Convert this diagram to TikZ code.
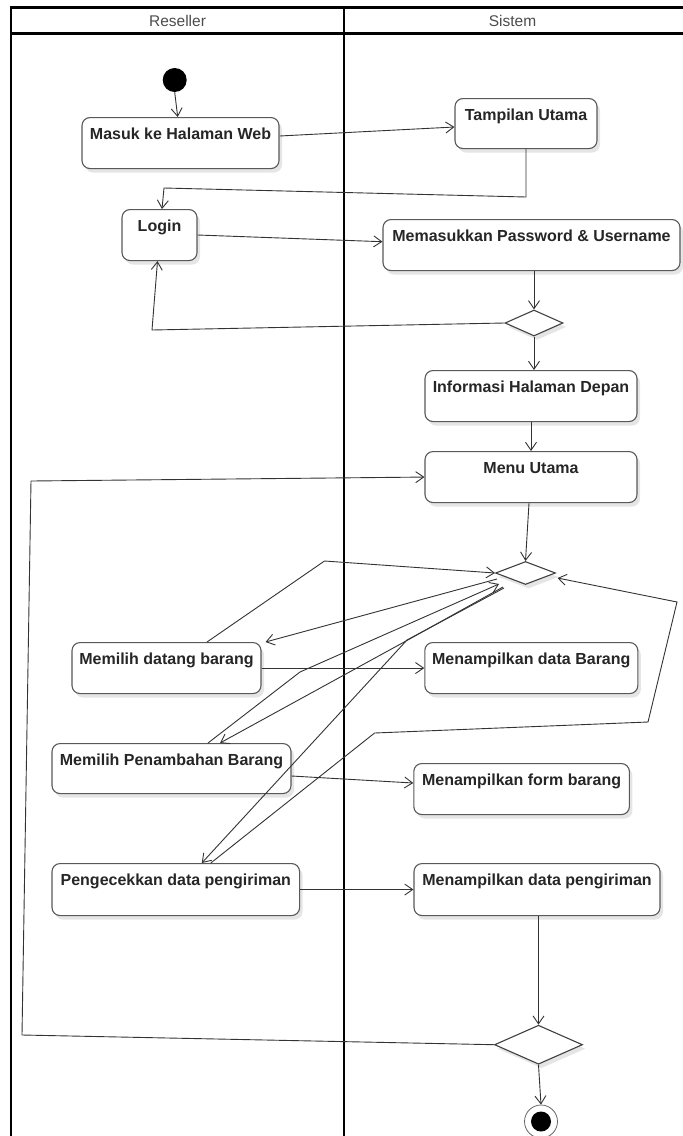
\documentclass[tikz,border=0pt]{standalone}
\usepackage{fontspec}
\setmainfont{Liberation Sans}
\usetikzlibrary{shapes.geometric,arrows.meta,shadows}
\begin{document}
\begin{tikzpicture}[x=1pt,y=-1pt,
  lane/.style={line width=2.5pt,black},
  hdr/.style={font=\fontsize{15.5}{18}\selectfont,text=black!70,inner sep=0pt},
  act/.style={draw=black!65,line width=1.1pt,rounded corners=8pt,fill=white,
    font=\bfseries\fontsize{16}{19}\selectfont,text=black!85,
    inner xsep=2pt,inner ysep=0pt,text height=22pt,text depth=29pt,anchor=north,
    drop shadow={shadow xshift=3pt,shadow yshift=-4pt,fill=black,opacity=0.10}},
  dec/.style={diamond,draw=black!75,line width=1.1pt,fill=white,inner sep=0pt,
    drop shadow={shadow xshift=3pt,shadow yshift=-4pt,fill=black,opacity=0.10}},
  arr/.style={draw=black!80,line width=0.9pt,-{Straight Barb[length=8pt,width=11pt,line width=0.9pt]}},
  ln/.style={draw=black!80,line width=0.9pt}]
\useasboundingbox (0,0) rectangle (683,1136);
\fill[white] (0,0) rectangle (683,1136);
% swimlanes
\draw[lane] (11,1140) -- (11,7.3) -- (690,7.3);
\draw[lane] (11,33.3) -- (690,33.3);
\draw[lane] (344,7.3) -- (344,1140);
\node[hdr] (hR) at (177.5,20.5) {Reseller};
\node[hdr] (hS) at (512.5,20.5) {Sistem};
% nodes
\node[circle,fill=black,inner sep=0pt,minimum size=24pt] (start) at (174.7,80) {};
\node[act,minimum width=197pt] (masuk) at (180.5,117) {Masuk ke Halaman Web};
\node[act,minimum width=142pt,text depth=28pt] (tamp) at (526,98) {Tampilan Utama};
\node[act,minimum width=75pt] (login) at (159.5,209) {Login};
\node[act,minimum width=297pt] (memas) at (531.5,219) {Memasukkan Password \& Username};
\node[dec,minimum width=58pt,minimum height=26pt] (d1) at (534,323) {};
\node[act,minimum width=212pt] (info) at (531,370) {Informasi Halaman Depan};
\node[act,minimum width=212pt] (menu) at (531,451) {Menu Utama};
\node[dec,minimum width=60pt,minimum height=23pt] (dM) at (525.5,573) {};
\node[act,minimum width=189pt] (datang) at (166.5,642) {Memilih datang barang};
\node[act,minimum width=213pt] (dataB) at (531.3,642) {Menampilkan data Barang};
\node[act,minimum width=239pt,text depth=28pt] (penamb) at (171.5,743) {Memilih Penambahan Barang};
\node[act,minimum width=215.6pt] (form) at (521.6,763) {Menampilkan form barang};
\node[act,minimum width=247.6pt,text depth=30pt] (pengec) at (175.8,863) {Pengecekkan data pengiriman};
\node[act,minimum width=246pt,text depth=30pt] (dataP) at (537,863) {Menampilkan data pengiriman};
\node[dec,minimum width=88pt,minimum height=39pt] (dB) at (538.5,1044.7) {};
\node[circle,draw=black!60,line width=0.8pt,fill=white,minimum size=33pt,inner sep=0pt] (end) at (541,1121.5) {};
\node[circle,fill=black,minimum size=20pt,inner sep=0pt] (endin) at (end.center) {};
% helper coordinates
\coordinate (t1) at (526,197);
\coordinate (t2) at (164,188);
\coordinate (c1) at (152,330);
\coordinate (cL1) at (22,1035);
\coordinate (cL2) at (31,481);
\coordinate (ka) at (324.5,561);
\coordinate (k1) at (300,672);
\coordinate (k2) at (406,641);
\coordinate (k3) at (407,640);
\coordinate (k4a) at (374.6,733);
\coordinate (k4b) at (648,722);
\coordinate (k4c) at (677,602);
% connectors
\draw[arr] (start.south) -- ([xshift=3pt]start.south |- masuk.north);
\draw[arr] ([yshift=-19pt]masuk.north east) -- ([yshift=-29pt]tamp.north west);
\draw[arr] (tamp.south) -- (t1) -- (t2) -- ([xshift=2.5pt]login.north);
\draw[arr] ([yshift=-26pt]login.north east) -- ([yshift=-22.7pt]memas.north west);
\draw[arr] (d1.north |- memas.south) -- (d1.north);
\draw[arr] (d1.west) -- (c1) -- ([xshift=-2pt]login.south);
\draw[arr] (d1.south) -- (d1.south |- info.north);
\draw[arr] (info.south) -- (menu.north);
\draw[arr] ([xshift=3.5pt]dM.north |- menu.south) -- (dM.north);
\draw[arr] (dB.west) -- (cL1) -- (cL2) -- (menu.west);
\draw[arr] ([xshift=40.5pt]datang.north) -- (ka) -- (dM.west);
\draw[arr] ([xshift=2pt,yshift=-6pt]dM.west) -- ([xshift=4pt]datang.north east);
\draw[arr] ([xshift=36.5pt]penamb.north) -- (k1) -- (499,584);
\draw[arr] (503,587) -- (k2) -- ([xshift=48.5pt]penamb.north);
\draw[arr] (504,588) -- (k3) -- ([xshift=26pt]pengec.north);
\draw[arr] ([xshift=35pt]pengec.north) -- (k4a) -- (k4b) -- (k4c) -- ([xshift=1.5pt,yshift=-5pt]dM.east);
\draw[arr] (datang.east) -- (dataB.west);
\draw[arr] ([yshift=-33pt]penamb.north east) -- ([yshift=-20pt]form.north west);
\draw[arr] (pengec.east) -- (dataP.west);
\draw[arr] (dB.north |- dataP.south) -- (dB.north);
\draw[arr] (dB.south) -- (end.north);
\end{tikzpicture}
\end{document}
